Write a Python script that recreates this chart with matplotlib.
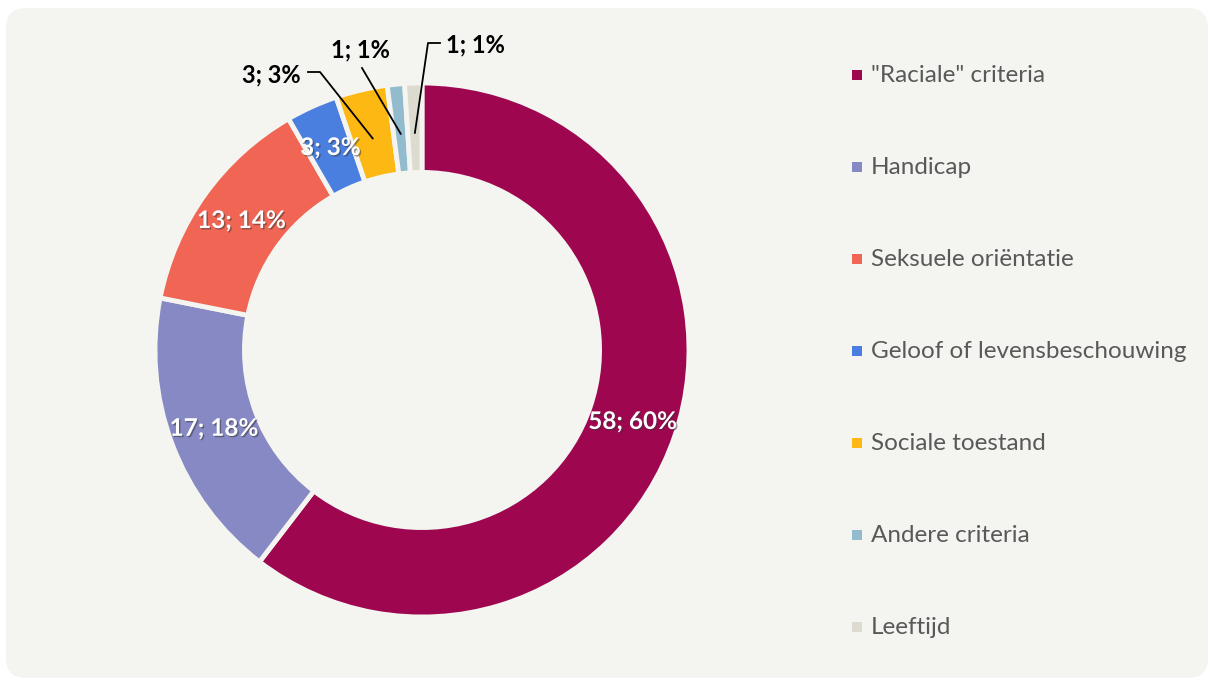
import matplotlib.pyplot as plt
import matplotlib.patheffects as pe
from matplotlib.patches import FancyBboxPatch, Rectangle
import numpy as np

categories = ['"Raciale" criteria', 'Handicap', 'Seksuele oriëntatie',
              'Geloof of levensbeschouwing', 'Sociale toestand',
              'Andere criteria', 'Leeftijd']
values = [58, 17, 13, 3, 3, 1, 1]
colors = ['#9E0650', '#8689C4', '#F06553', '#4A7FE0', '#FDB813',
          '#92BCCE', '#DDDAD0']

BG = '#F4F4F0'
W, H = 1212, 680
cx, cy, R = 422, H - 350, 267
ring = 0.335

plt.rcParams['font.family'] = ['Lato', 'DejaVu Sans']

fig = plt.figure(figsize=(W / 100, H / 100), dpi=100)
fig.patch.set_facecolor('white')
ax = fig.add_axes([0, 0, 1, 1])

# rounded background panel
ax.add_patch(FancyBboxPatch((6 + 20, 2 + 20), W - 4 - 6 - 40, H - 8 - 2 - 40,
                            boxstyle='round,pad=20', fc=BG, ec='none', zorder=0))

wedges, _ = ax.pie(values, colors=colors, startangle=90, counterclock=False,
                   center=(cx, cy), radius=R, frame=True,
                   wedgeprops=dict(width=R * ring, edgecolor=BG, linewidth=3.5))
ax.set_xlim(0, W)
ax.set_ylim(0, H)
ax.set_aspect('equal')
ax.axis('off')

total = sum(values)
labels = ['%d; %d%%' % (v, round(100 * v / total)) for v in values]

shadow = [pe.withSimplePatchShadow(offset=(1, -1), shadow_rgbFace='#333333', alpha=0.5)]
FS = 17.5


def mid(w):
    return np.deg2rad((w.theta1 + w.theta2) / 2)


rmid = R * (1 - ring / 2)
# labels inside the ring
for i in [0, 1, 2, 3]:
    a = mid(wedges[i])
    ax.text(cx + rmid * np.cos(a), cy + rmid * np.sin(a), labels[i],
            color='white', fontsize=FS, fontweight='bold',
            ha='center', va='center', path_effects=shadow)

# outside labels with leader lines
r_in = R * (1 - ring / 2) - 5
outside = {
    4: ((301, H - 75), [(308, H - 72), (320, H - 72)], 'right'),
    5: ((360, H - 50), [(362, H - 68)], 'center'),
    6: ((446, H - 45), [(440, H - 43), (428, H - 43)], 'left'),
}
for i, ((tx, ty), knees, ha) in outside.items():
    a = mid(wedges[i])
    px, py = cx + r_in * np.cos(a), cy + r_in * np.sin(a)
    xs = [k[0] for k in knees] + [px]
    ys = [k[1] for k in knees] + [py]
    ax.plot(xs, ys, color='black', lw=1.3, zorder=5)
    ax.text(tx, ty, labels[i], color='black', fontsize=FS - 0.5, fontweight='bold',
            ha=ha, va='center')

# legend
ly0 = H - 75
for i, name in enumerate(categories):
    y = ly0 - i * 92
    ax.add_patch(Rectangle((852, y - 5), 10, 10, fc=colors[i], ec='none'))
    ax.text(871, y, name, color='#595959', fontsize=17.5, ha='left', va='center')

fig.savefig('out.png', dpi=100, facecolor='white')
